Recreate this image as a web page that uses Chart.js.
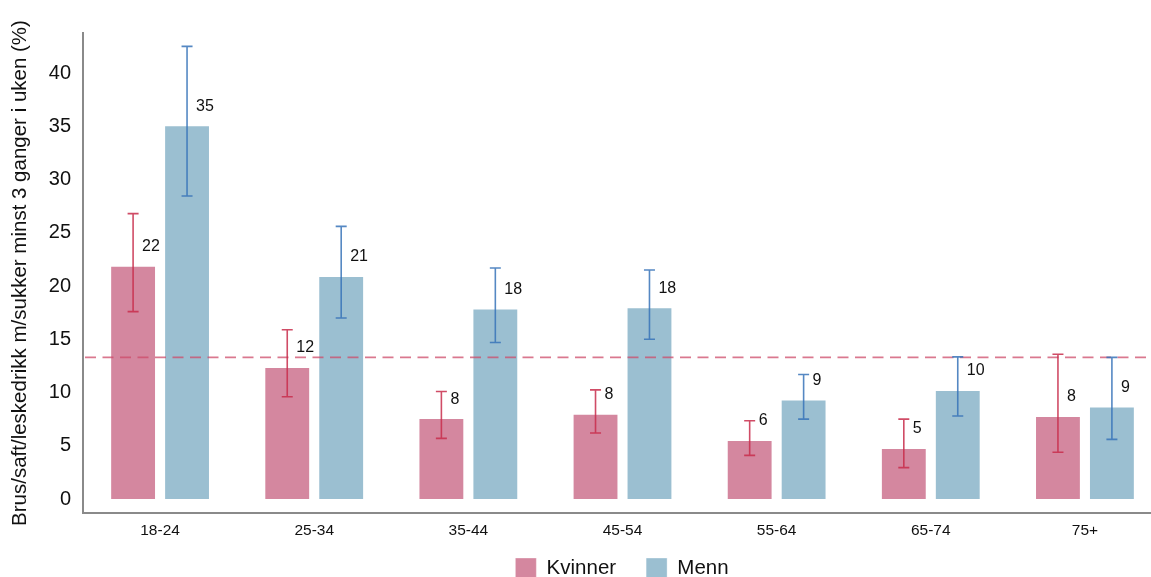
<!DOCTYPE html>
<html>
<head>
<meta charset="utf-8">
<script src="https://cdn.jsdelivr.net/npm/chart.js@4.4.0/dist/chart.umd.min.js"></script>
<style>
    html, body { margin: 0; padding: 0; background: #fff; overflow: hidden; }
    #wrap { position: relative; width: 1244px; height: 589px; }
</style>
</head>
<body>
<div id="wrap"><canvas id="chart"></canvas></div>
<script>
// Data
const categories = ['18-24', '25-34', '35-44', '45-54', '55-64', '65-74', '75+'];
const kvinner = [21.9, 12.4, 7.6, 8.0, 5.55, 4.8, 7.8];
const kvinnerLow = [17.6, 9.6, 5.7, 6.2, 4.1, 2.95, 4.4];
const kvinnerHigh = [26.8, 15.9, 10.1, 10.25, 7.35, 7.5, 13.6];
const menn = [35.1, 20.95, 17.9, 18.0, 9.35, 10.25, 8.7];
const mennLow = [28.45, 17.0, 14.7, 15.0, 7.5, 7.8, 5.6];
const mennHigh = [42.5, 25.6, 21.7, 21.5, 11.7, 13.35, 13.3];
const snitt = 13.3;
const yTicks = [0, 5, 10, 15, 20, 25, 30, 35, 40];

const errorBars = [
    { low: kvinnerLow, high: kvinnerHigh, color: 'rgba(200, 45, 75, 0.85)' },
    { low: mennLow, high: mennHigh, color: 'rgba(55, 115, 185, 0.85)' }
];

// x-aksen er gjort lav for å få legenden nær, men tekstene skal ikke klippes
const aksePlass = {
    id: 'aksePlass',
    afterLayout(chart) {
        const x = chart.scales.x;
        x.bottom = x.top + 40;
    }
};

// Stiplet linje for snittet
const snittLinje = {
    id: 'snittLinje',
    afterDatasetsDraw(chart) {
        const { ctx, chartArea, scales } = chart;
        const y = scales.y.getPixelForValue(snitt);
        ctx.save();
        ctx.strokeStyle = 'rgba(205, 75, 105, 0.75)';
        ctx.lineWidth = 1.8;
        ctx.setLineDash([11, 6.5]);
        ctx.beginPath();
        ctx.moveTo(chartArea.left + 2, y);
        ctx.lineTo(chartArea.right, y);
        ctx.stroke();
        ctx.restore();
    }
};

// Feilstolper og tall
const feilstolper = {
    id: 'feilstolper',
    afterDatasetsDraw(chart) {
        const { ctx, scales } = chart;
        ctx.save();
        chart.data.datasets.forEach((ds, i) => {
            const meta = chart.getDatasetMeta(i);
            const eb = errorBars[i];
            meta.data.forEach((bar, j) => {
                const x = bar.x;
                const yLow = scales.y.getPixelForValue(eb.low[j]);
                const yHigh = scales.y.getPixelForValue(eb.high[j]);
                ctx.strokeStyle = eb.color;
                ctx.lineWidth = 1.6;
                ctx.beginPath();
                ctx.moveTo(x, yLow);
                ctx.lineTo(x, yHigh);
                ctx.moveTo(x - 5.5, yLow);
                ctx.lineTo(x + 5.5, yLow);
                ctx.moveTo(x - 5.5, yHigh);
                ctx.lineTo(x + 5.5, yHigh);
                ctx.stroke();

                ctx.fillStyle = '#111';
                ctx.font = '16px "Liberation Sans", Arial, sans-serif';
                ctx.textAlign = 'left';
                ctx.textBaseline = 'middle';
                ctx.fillText(String(Math.round(ds.data[j])), x + 9, bar.y - 19);
            });
        });
        ctx.restore();
    }
};

const ctx = document.getElementById('chart').getContext('2d');
const chart = new Chart(ctx, {
    type: 'bar',
    data: {
        labels: categories,
        datasets: [
            {
                label: 'Kvinner',
                data: kvinner,
                backgroundColor: '#d4879f',
                borderColor: 'rgba(255,255,255,0.35)',
                borderWidth: 1,
                categoryPercentage: 0.70,
                barPercentage: 0.85
            },
            {
                label: 'Menn',
                data: menn,
                backgroundColor: '#9bbfd1',
                borderColor: 'rgba(255,255,255,0.35)',
                borderWidth: 1,
                categoryPercentage: 0.70,
                barPercentage: 0.85
            }
        ]
    },
    options: {
        responsive: true,
        maintainAspectRatio: false,
        animation: false,
        layout: { padding: { top: 33, left: 0, right: 0, bottom: 0 } },
        plugins: {
            tooltip: { enabled: false },
            legend: {
                position: 'bottom',
                labels: {
                    boxWidth: 21,
                    boxHeight: 21,
                    padding: 30,
                    color: '#111',
                    font: { family: '"Liberation Sans", Arial, sans-serif', size: 20.5 }
                }
            }
        },
        scales: {
            x: {
                grid: { display: false, drawTicks: false },
                border: { display: true, color: '#8a8a8a', width: 2 },
                ticks: {
                    padding: 8,
                    color: '#111',
                    font: { family: '"Liberation Sans", Arial, sans-serif', size: 15.5 }
                },
                afterFit(scale) { scale.height = 15; }
            },
            y: {
                min: -1.31,
                max: 43.76,
                grid: { display: false, drawTicks: false },
                border: { display: true, color: '#8a8a8a', width: 2 },
                afterBuildTicks(scale) {
                    scale.ticks = yTicks.map(v => ({ value: v }));
                },
                ticks: {
                    padding: 12,
                    color: '#111',
                    font: { family: '"Liberation Sans", Arial, sans-serif', size: 20 }
                },
                title: {
                    display: true,
                    text: 'Brus/saft/leskedrikk m/sukker minst 3 ganger i uken (%)',
                    color: '#111',
                    padding: { top: 8, bottom: 0 },
                    font: { family: '"Liberation Sans", Arial, sans-serif', size: 20.5 }
                },
                afterFit(scale) { scale.width = 83; }
            },
            y2: {
                position: 'right',
                display: true,
                grid: { display: false, drawTicks: false },
                border: { display: false },
                ticks: { display: false },
                afterFit(scale) { scale.width = 82; }
            }
        }
    },
    plugins: [aksePlass, snittLinje, feilstolper]
});
</script>
</body>
</html>
